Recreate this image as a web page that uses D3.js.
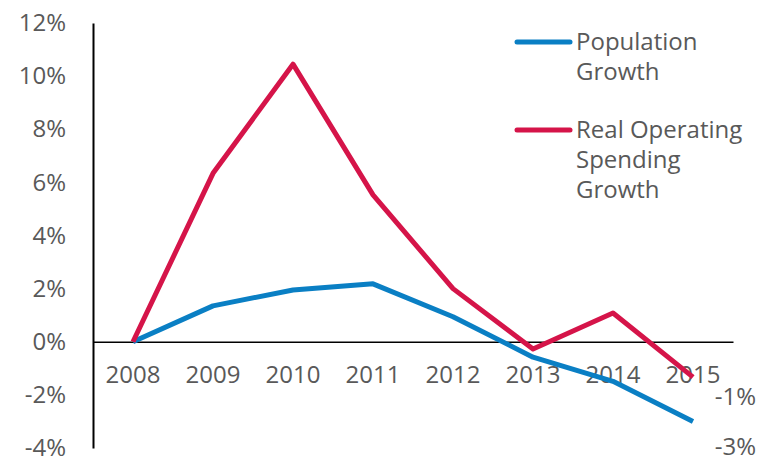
<!DOCTYPE html>
<html>
<head>
<meta charset="utf-8">
<script src="https://cdn.jsdelivr.net/npm/d3@7"></script>
<style>
  body { margin: 0; background: #fff; }
  text { font-family: "Open Sans", sans-serif; fill: #595959; }
</style>
</head>
<body>
<div id="chart"></div>
<script>
var years = ["2008", "2009", "2010", "2011", "2012", "2013", "2014", "2015"];
var population = [0, 1.35, 1.95, 2.18, 0.94, -0.58, -1.49, -3.0];
var spending = [0, 6.34, 10.45, 5.53, 2.0, -0.27, 1.08, -1.33];
var yTicks = [-4, -2, 0, 2, 4, 6, 8, 10, 12];
var endLabels = ["-1%", "-3%"];

var width = 773,
   height = 464;

var x = d3.scaleBand()
   .domain(years)
   .range([93, 733]);

var y = d3.scaleLinear()
   .domain([-4, 12])
   .range([448, 23]);

var svg = d3.select("#chart").append("svg")
   .attr("width", width)
   .attr("height", height);

// y axis, no ticks, labels only
var yAxis = d3.axisLeft(y)
   .tickValues(yTicks)
   .tickSize(0)
   .tickPadding(27)
   .tickFormat(function(d) { return d + "%"; });

var gy = svg.append("g")
   .attr("transform", "translate(93,0)")
   .call(yAxis);
gy.select(".domain").attr("stroke", "#000").attr("stroke-width", 2);
gy.selectAll("text").style("font-size", "24px").attr("fill", "#595959");

// zero line with year labels
var xAxis = d3.axisBottom(x)
   .tickSize(0)
   .tickPadding(24);

var gx = svg.append("g")
   .attr("transform", "translate(0," + y(0) + ")")
   .call(xAxis);
gx.select(".domain").attr("stroke", "#000").attr("stroke-width", 1.5);
gx.selectAll("text").style("font-size", "24px").attr("fill", "#595959");

var line = d3.line()
   .x(function(d, i) { return x(years[i]) + x.bandwidth() / 2; })
   .y(function(d) { return y(d); });

svg.append("path")
   .datum(population)
   .attr("fill", "none")
   .attr("stroke", "#0A7FC4")
   .attr("stroke-width", 5)
   .attr("stroke-linejoin", "round")
   .attr("d", line);

svg.append("path")
   .datum(spending)
   .attr("fill", "none")
   .attr("stroke", "#D51449")
   .attr("stroke-width", 5)
   .attr("stroke-linejoin", "round")
   .attr("d", line);

// end value labels
svg.selectAll(".endlabel")
   .data(endLabels)
   .enter().append("text")
   .attr("class", "endlabel")
   .attr("x", 756)
   .attr("y", function(d, i) { return i === 0 ? 397 : 447; })
   .attr("dy", "0.35em")
   .attr("text-anchor", "end")
   .style("font-size", "24px")
   .text(function(d) { return d; });

// legend
var legend = [
   {color: "#0A7FC4", lines: ["Population", "Growth"], y: 42},
   {color: "#D51449", lines: ["Real Operating", "Spending", "Growth"], y: 130}
];

legend.forEach(function(item) {
   svg.append("line")
      .attr("x1", 517).attr("x2", 570)
      .attr("y1", item.y).attr("y2", item.y)
      .attr("stroke", item.color)
      .attr("stroke-width", 5)
      .attr("stroke-linecap", "round");
   item.lines.forEach(function(t, j) {
      svg.append("text")
         .attr("x", 576)
         .attr("y", item.y + j * 30)
         .attr("dy", "0.35em")
         .style("font-size", "24px")
         .text(t);
   });
});
</script>
</body>
</html>
